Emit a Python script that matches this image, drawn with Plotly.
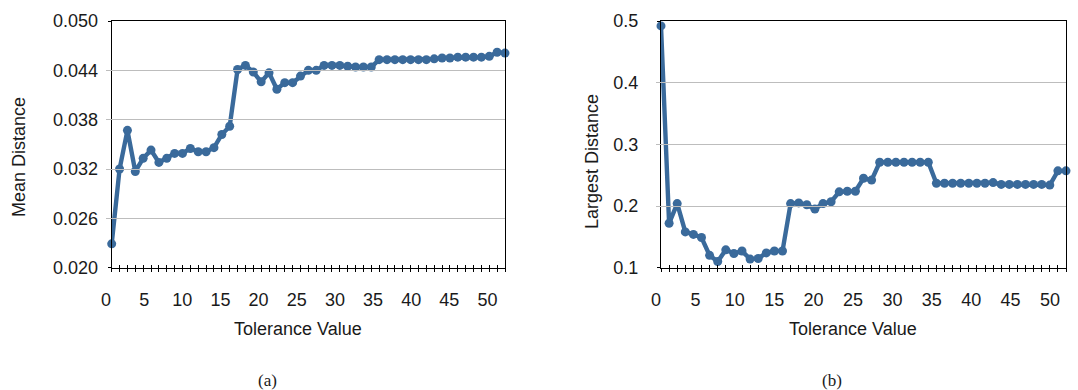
import plotly.graph_objects as go

# Tolerance values 0..50 shared by both panels
tolerance = list(range(51))

# (a) mean distance per tolerance value
mean_distance = [
    0.0229, 0.0320, 0.0367, 0.0317, 0.0333, 0.0343, 0.0328, 0.0333, 0.0339, 0.0339,
    0.0345, 0.0341, 0.0341, 0.0346, 0.0362, 0.0372, 0.0441, 0.0446, 0.0438, 0.0426,
    0.0437, 0.0417, 0.0425, 0.0425, 0.0433, 0.0440, 0.0440, 0.0446, 0.0446, 0.0446,
    0.0445, 0.0444, 0.0444, 0.0444, 0.0453, 0.0453, 0.0453, 0.0453, 0.0453, 0.0453,
    0.0453, 0.0454, 0.0455, 0.0455, 0.0456, 0.0456, 0.0456, 0.0456, 0.0457, 0.0462,
    0.0461,
]

# (b) largest distance per tolerance value
largest_distance = [
    0.492, 0.172, 0.204, 0.158, 0.154, 0.149, 0.120, 0.110, 0.129, 0.123,
    0.127, 0.114, 0.115, 0.124, 0.127, 0.127, 0.204, 0.205, 0.202, 0.195,
    0.204, 0.207, 0.223, 0.224, 0.224, 0.245, 0.242, 0.271, 0.271, 0.271,
    0.271, 0.271, 0.271, 0.271, 0.237, 0.237, 0.237, 0.237, 0.237, 0.237,
    0.237, 0.238, 0.235, 0.235, 0.235, 0.235, 0.235, 0.235, 0.234, 0.257,
    0.257,
]

x_tick_labels = [0, 5, 10, 15, 20, 25, 30, 35, 40, 45, 50]
left_y_ticks = [0.020, 0.026, 0.032, 0.038, 0.044, 0.050]
right_y_ticks = [0.1, 0.2, 0.3, 0.4, 0.5]

W, H = 1078, 390
LINE_COLOR = "#3A6A9B"
SANS = "Liberation Sans, Arial, Helvetica, sans-serif"
SERIF = "Liberation Serif, Times New Roman, serif"
TXT = "#1a1a1a"


def px_x(p):
    return p / W


def px_y(p):
    return 1 - p / H


left_dom = [px_x(111.7), px_x(505)]
right_dom = [px_x(661), px_x(1066)]
# tick labels run on a slightly narrower band than the plotted points
left_label_dom = [px_x(106), px_x(487.5)]
right_label_dom = [px_x(656), px_x(1050)]
y_dom = [px_y(267.7), px_y(21)]

fig = go.Figure()

series_style = dict(
    mode="lines+markers",
    line=dict(color=LINE_COLOR, width=4.4),
    marker=dict(color=LINE_COLOR, size=9),
    cliponaxis=False,
    showlegend=False,
)
fig.add_trace(go.Scatter(x=tolerance, y=mean_distance, xaxis="x", yaxis="y", **series_style))
fig.add_trace(go.Scatter(x=tolerance, y=largest_distance, xaxis="x2", yaxis="y2", **series_style))

# empty traces so the helper axes (inner ticks, tick labels) are drawn
for xa, ya in [("x3", "y"), ("x4", "y"), ("x5", "y2"), ("x6", "y2")]:
    fig.add_trace(go.Scatter(x=[], y=[], xaxis=xa, yaxis=ya, showlegend=False, hoverinfo="skip"))

tick_font = dict(family=SANS, size=18, color=TXT)

data_x = dict(
    range=[0, 50], tickvals=tolerance, ticks="outside", ticklen=3, tickcolor="#000",
    showticklabels=False, showgrid=False, zeroline=False, automargin=False,
    showline=True, linecolor="#000", linewidth=1, mirror=True,
)
inner_x = dict(
    range=[0, 50], tickvals=tolerance, ticks="inside", ticklen=3, tickcolor="#000",
    showticklabels=False, showgrid=False, zeroline=False, showline=False, automargin=False,
)
label_x = dict(
    range=[0, 50], tickvals=x_tick_labels, ticks="", showticklabels=True,
    tickfont=tick_font, ticklabelstandoff=19, automargin=False,
    showgrid=False, zeroline=False, showline=False,
)

fig.update_layout(
    width=W, height=H,
    margin=dict(l=0, r=0, t=0, b=0, autoexpand=False),
    paper_bgcolor="white", plot_bgcolor="rgba(0,0,0,0)",
    xaxis=dict(domain=left_dom, anchor="y", **data_x),
    xaxis3=dict(overlaying="x", anchor="y", **inner_x),
    xaxis4=dict(domain=left_label_dom, anchor="y", **label_x),
    xaxis2=dict(domain=right_dom, anchor="y2", **data_x),
    xaxis5=dict(overlaying="x2", anchor="y2", **inner_x),
    xaxis6=dict(domain=right_label_dom, anchor="y2", **label_x),
    yaxis=dict(
        domain=y_dom, anchor="x", range=[0.020, 0.050], automargin=False,
        tickvals=left_y_ticks, tickformat=".3f", tickfont=tick_font,
        ticks="outside", ticklen=3, tickcolor="#000", ticklabelstandoff=6,
        showgrid=True, gridcolor="#BDBDBD", gridwidth=1, zeroline=False,
        showline=True, linecolor="#000", linewidth=1, mirror=True,
    ),
    yaxis2=dict(
        domain=y_dom, anchor="x2", range=[0.1, 0.5], automargin=False,
        tickvals=right_y_ticks, tickformat=".1f", tickfont=tick_font,
        ticks="outside", ticklen=3, tickcolor="#000", ticklabelstandoff=15,
        showgrid=True, gridcolor="#BDBDBD", gridwidth=1, zeroline=False,
        showline=True, linecolor="#000", linewidth=1, mirror=True,
    ),
)

title_font = dict(family=SANS, size=18, color=TXT)
annotations = [
    dict(text="Tolerance Value", x=px_x(297.5), y=px_y(329), font=title_font),
    dict(text="Tolerance Value", x=px_x(852.5), y=px_y(329), font=title_font),
    dict(text="Mean Distance", x=px_x(19), y=px_y(157), textangle=-90, font=title_font),
    dict(text="Largest Distance", x=px_x(592), y=px_y(162), textangle=-90, font=title_font),
    dict(text="(a)", x=px_x(267.5), y=px_y(380), font=dict(family=SERIF, size=17, color=TXT)),
    dict(text="(b)", x=px_x(832), y=px_y(380), font=dict(family=SERIF, size=17, color=TXT)),
]
for a in annotations:
    fig.add_annotation(xref="paper", yref="paper", xanchor="center", yanchor="middle",
                       showarrow=False, **a)

fig.write_html("out.html")
